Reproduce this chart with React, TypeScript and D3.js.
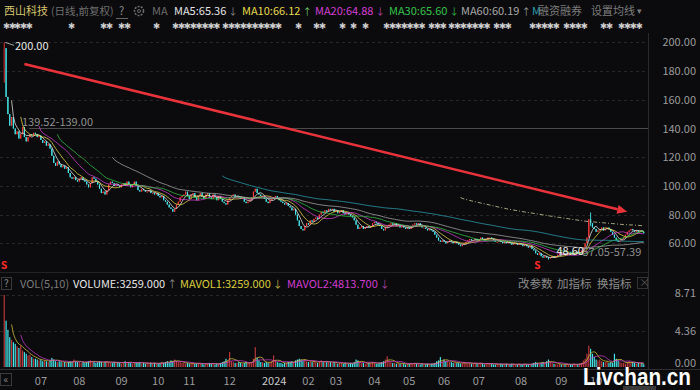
import React, { useEffect, useRef } from "react";
import * as d3 from "d3";

// month labels on the time axis, one per block of trading days below
const monthLabels = ["06", "07", "08", "09", "10", "11", "12", "2024", "02", "03", "04", "05", "06", "07", "08", "09", "10", "11"];

// daily closes, one array per month
const close2306 = [196, 162, 150, 142, 148, 140, 136, 138, 133, 136, 141, 134, 131, 134, 136, 135, 137];
const close2307 = [136, 134, 135, 132, 130, 131, 128, 129, 126, 121, 116, 114, 117, 115, 113, 114, 112, 113, 109, 106, 105];
const close2308 = [106, 104, 103, 105, 106, 104, 103, 101, 99, 102, 106, 105, 103, 101, 98, 95, 96, 94, 97, 101, 103, 102, 100];
const close2309 = [101, 100, 99, 101, 102, 100, 103, 101, 99, 101, 103, 100, 97, 96, 98, 97, 96, 96, 97, 95];
const close2310 = [95, 94, 95, 93, 92, 93, 90, 89, 87, 85, 84, 82, 84, 87, 89, 92, 93];
const close2311 = [94, 96, 93, 91, 94, 95, 92, 90, 93, 95, 93, 91, 94, 95, 92, 91, 94, 92, 90, 93, 91, 89];
const close2312 = [88, 87, 90, 92, 93, 94, 92, 93, 92, 91, 92, 89, 88, 89, 90, 92, 96, 98, 95, 94, 93];
const close2401 = [93, 91, 89, 88, 90, 91, 92, 93, 91, 90, 89, 88, 87, 88, 86, 85, 83, 84, 80, 76, 72, 70];
const close2402 = [69, 72, 74, 73, 76, 75, 77, 78, 77, 80, 82, 81, 83, 82, 84];
const close2403 = [83, 84, 82, 83, 81, 82, 83, 81, 80, 81, 80, 79, 78, 76, 73, 70, 71, 72, 70, 71, 72];
const close2404 = [71, 72, 74, 75, 74, 73, 72, 70, 69, 71, 72, 73, 74, 73, 74, 72, 73, 71, 72];
const close2405 = [71, 70, 71, 70, 72, 73, 74, 73, 74, 72, 71, 71, 70, 69, 70, 69, 68, 66, 64];
const close2406 = [62, 61, 62, 61, 60, 61, 62, 61, 60, 61, 60, 59, 58, 59, 60, 61, 62, 63, 62];
const close2407 = [62, 63, 62, 63, 64, 63, 62, 63, 64, 64, 63, 62, 61, 61, 62, 61, 60, 61, 60, 61, 60, 59, 60];
const close2408 = [60, 59, 60, 59, 58, 59, 58, 57, 58, 56, 55, 53, 52, 53, 51, 50, 51, 50, 49.5, 50, 51, 50];
const close2409 = [51, 52, 53, 52, 53, 52, 53, 54, 53, 52, 53, 54, 53, 54, 55, 57, 60, 64, 76.8];
const close2410 = [74, 71, 70, 68, 69, 70, 71, 69, 70, 71, 70, 68, 66, 64, 62, 61, 62, 63];
const close2411 = [64, 66, 68, 69, 70, 69, 68, 69, 68, 69, 68, 67];

// daily volume (万手), one array per month
const vol2306 = [8.71, 5.6, 4.5, 3.6, 3.3, 3.0, 2.8, 2.5, 2.3, 2.6, 2.0, 1.8, 1.6, 1.4, 1.5, 1.2, 1.0];
const vol2307 = [1.0, 0.9, 0.8, 0.9, 0.7, 0.8, 0.7, 0.6, 0.8, 1.1, 0.9, 0.7, 0.6, 0.7, 0.6, 0.5, 0.6, 0.5, 0.6, 0.7, 0.6];
const vol2308 = [0.9, 0.7, 0.6, 0.6, 0.5, 0.6, 0.5, 0.6, 0.7, 0.8, 0.7, 0.6, 0.5, 0.6, 0.7, 0.6, 0.5, 0.6, 0.7, 0.6, 0.5, 0.5, 0.6];
const vol2309 = [0.5, 0.6, 0.5, 0.4, 0.6, 0.7, 0.5, 0.6, 0.5, 0.4, 0.6, 0.5, 0.5, 0.6, 0.4, 0.5, 0.4, 0.5, 0.4, 0.5];
const vol2310 = [0.4, 0.5, 0.4, 0.4, 0.5, 0.6, 0.5, 0.6, 0.7, 0.6, 0.8, 0.7, 0.9, 0.7, 0.6, 0.6, 0.5];
const vol2311 = [0.5, 0.4, 0.5, 0.4, 0.4, 0.5, 0.4, 0.4, 0.5, 0.4, 0.4, 0.3, 0.4, 0.4, 0.5, 0.4, 0.4, 0.3, 0.4, 0.4, 0.5, 0.6];
const vol2312 = [0.7, 1.0, 0.8, 1.8, 0.7, 0.6, 0.5, 0.5, 0.6, 0.5, 0.4, 0.5, 0.6, 0.5, 0.5, 0.6, 1.0, 2.4, 1.1, 0.8, 0.6];
const vol2401 = [0.6, 0.5, 0.6, 0.5, 0.6, 0.7, 1.4, 0.8, 0.6, 0.5, 0.5, 0.4, 0.5, 0.5, 0.6, 0.6, 0.7, 0.6, 0.8, 0.9, 1.0, 0.9];
const vol2402 = [0.8, 0.9, 0.7, 0.6, 0.7, 0.6, 0.7, 0.6, 0.5, 0.7, 0.8, 0.6, 0.7, 0.6, 0.6];
const vol2403 = [0.6, 0.5, 0.6, 0.5, 0.4, 0.5, 0.5, 0.4, 0.5, 0.4, 0.4, 0.5, 0.4, 0.6, 0.9, 0.8, 0.6, 0.5, 0.5, 0.4, 0.5];
const vol2404 = [0.5, 0.5, 0.6, 0.5, 0.4, 0.4, 0.5, 0.6, 0.7, 0.9, 1.3, 0.8, 0.6, 0.5, 0.5, 0.4, 0.5, 0.4, 0.4];
const vol2405 = [0.4, 0.3, 0.4, 0.4, 0.5, 0.4, 0.5, 0.4, 0.4, 0.3, 0.4, 0.3, 0.3, 0.4, 0.3, 0.4, 0.4, 0.5, 0.7];
const vol2406 = [0.8, 1.2, 0.7, 0.9, 0.7, 0.8, 0.6, 0.6, 0.5, 0.6, 0.5, 0.5, 0.4, 0.5, 0.6, 0.5, 0.4, 0.5, 0.4];
const vol2407 = [0.4, 0.5, 0.4, 0.4, 0.5, 0.4, 0.3, 0.4, 0.5, 0.4, 0.4, 0.3, 0.3, 0.4, 0.3, 0.4, 0.3, 0.3, 0.4, 0.3, 0.3, 0.4, 0.3];
const vol2408 = [0.3, 0.3, 0.4, 0.3, 0.3, 0.4, 0.3, 0.3, 0.3, 0.4, 0.5, 0.6, 0.5, 0.4, 0.5, 0.6, 0.5, 0.7, 0.9, 0.6, 0.5, 0.4];
const vol2409 = [0.4, 0.3, 0.4, 0.3, 0.3, 0.3, 0.4, 0.3, 0.3, 0.3, 0.4, 0.3, 0.3, 0.4, 0.5, 0.8, 1.0, 1.6, 2.6];
const vol2410 = [2.2, 1.6, 1.2, 0.9, 0.8, 0.9, 0.7, 0.6, 0.6, 0.7, 0.5, 0.6, 0.5, 1.6, 1.0, 0.8, 0.6, 0.5];
const vol2411 = [0.5, 0.4, 0.6, 0.7, 0.5, 0.6, 0.5, 0.4, 0.5, 0.4, 0.5, 0.33];

const firstOpen = 181;
// days whose range reaches past the body
const wicks = [
  { day: 0, high: 200, low: 172 },
  { day: 297, high: 50.5, low: 48.6 },
  { day: 320, high: 81.5, low: 72 },
];

const priceTicks = [200, 180, 160, 140, 120, 100, 80, 60];
const volTicks = [8.71, 4.36, 0];
const maPeriods = [5, 10, 20, 30, 60, 120, 250];
const maLegend = ["MA5:65.36", "MA10:66.12", "MA20:64.88", "MA30:65.60", "MA60:60.19"];
const volLegend = ["VOLUME:3259.000", "MAVOL1:3259.000", "MAVOL2:4813.700"];
const gap = { from: 7, top: 139.52, bottom: 139.0 };
const gap2 = { top: 57.05, bottom: 57.39 };
const highMark = { day: 0, value: 200 };
const lowMark = { day: 297, value: 48.6 };
const signalDays = [0, 291];
const trendArrow = { from: [11, 185], to: [340, 82] };

const FONT = '"Noto Sans CJK SC", "Noto Sans", sans-serif';
const BG = "#0b0b0d";
const UP = "#f23a3a";
const DOWN = "#45e3e6";
const maColors = ["#e4e4e4", "#e6d84a", "#d23fd2", "#35c24a", "#a8a8a8", "#2d9fb0", "#d9d6a6"];

const ChartKline = () => {
  const ref = useRef(null);

  useEffect(() => {
    document.body.style.margin = "0";
    document.body.style.background = BG;

    const closes = [close2306, close2307, close2308, close2309, close2310, close2311, close2312, close2401, close2402, close2403, close2404, close2405, close2406, close2407, close2408, close2409, close2410, close2411];
    const vols = [vol2306, vol2307, vol2308, vol2309, vol2310, vol2311, vol2312, vol2401, vol2402, vol2403, vol2404, vol2405, vol2406, vol2407, vol2408, vol2409, vol2410, vol2411];
    const close = closes.flat();
    const volume = vols.flat();
    const n = close.length;

    const days = close.map((c, i) => {
      const o = i === 0 ? firstOpen : close[i - 1];
      const w = wicks.find((d) => d.day === i);
      return {
        i,
        o,
        c,
        h: Math.max(o, c, w ? w.high : -Infinity),
        l: Math.min(o, c, w ? w.low : Infinity),
        v: volume[i],
        up: c >= o,
      };
    });

    const W = 700;
    const H = 390;
    const plotR = 648;

    const x = d3.scaleBand().domain(d3.range(n)).range([3, 645]).padding(0.35);
    const cx = (i) => x(i) + x.bandwidth() / 2;
    const y = d3.scaleLinear().domain([60, 200]).range([243.3, 42.4]);
    const vy = d3.scaleLinear().domain([0, 8.71]).range([367, 295]);

    const root = d3.select(ref.current);
    root.selectAll("*").remove();
    const svg = root
      .append("svg")
      .attr("width", W)
      .attr("height", H)
      .style("display", "block")
      .attr("font-family", FONT);

    svg.append("rect").attr("width", W).attr("height", H).attr("fill", BG);

    // grid
    svg
      .append("g")
      .selectAll("line")
      .data(priceTicks.filter((t) => t !== 140))
      .join("line")
      .attr("x1", 0)
      .attr("x2", plotR)
      .attr("y1", (d) => Math.round(y(d)) + 0.5)
      .attr("y2", (d) => Math.round(y(d)) + 0.5)
      .attr("stroke", "#262626")
      .attr("stroke-dasharray", "3,3");
    svg
      .append("g")
      .selectAll("line")
      .data(volTicks.filter((t) => t > 0))
      .join("line")
      .attr("x1", 0)
      .attr("x2", plotR)
      .attr("y1", (d) => Math.round(vy(d)) + 0.5)
      .attr("y2", (d) => Math.round(vy(d)) + 0.5)
      .attr("stroke", "#262626")
      .attr("stroke-dasharray", "3,3");

    // frame
    svg.append("line").attr("x1", plotR + 0.5).attr("x2", plotR + 0.5).attr("y1", 33).attr("y2", 370).attr("stroke", "#2a2a2a");
    svg.append("line").attr("x1", 0).attr("x2", plotR).attr("y1", 272.5).attr("y2", 272.5).attr("stroke", "#222");
    svg.append("line").attr("x1", 0).attr("x2", W).attr("y1", 369.5).attr("y2", 369.5).attr("stroke", "#2e2e2e");

    // gap line
    const gy = Math.round(y((gap.top + gap.bottom) / 2)) - 1.5;
    svg.append("line").attr("x1", cx(gap.from) + 12).attr("x2", plotR).attr("y1", gy).attr("y2", gy).attr("stroke", "#4a4a4a");

    // candles
    const cg = svg.append("g");
    cg.selectAll("line")
      .data(days)
      .join("line")
      .attr("x1", (d) => cx(d.i))
      .attr("x2", (d) => cx(d.i))
      .attr("y1", (d) => y(d.h))
      .attr("y2", (d) => y(d.l))
      .attr("stroke", (d) => (d.up ? UP : DOWN))
      .attr("stroke-width", 0.9);
    cg.selectAll("rect")
      .data(days)
      .join("rect")
      .attr("x", (d) => x(d.i))
      .attr("width", x.bandwidth())
      .attr("y", (d) => y(Math.max(d.o, d.c)))
      .attr("height", (d) => Math.max(1, Math.abs(y(d.o) - y(d.c))))
      .attr("fill", (d) => (d.i === 0 ? "#8a1c22" : d.up ? UP : DOWN));

    // moving averages
    const movingAvg = (vals, p) => vals.map((_, i) => (i < p - 1 ? null : d3.mean(vals.slice(i - p + 1, i + 1))));
    const maLine = (scale) =>
      d3
        .line()
        .defined((v) => v != null)
        .x((_, i) => cx(i))
        .y((v) => scale(v));
    maPeriods.forEach((p, k) => {
      svg
        .append("path")
        .attr("d", maLine(y)(movingAvg(close, p)))
        .attr("fill", "none")
        .attr("stroke", maColors[k])
        .attr("stroke-width", 0.9)
        .attr("stroke-opacity", 0.85)
        .attr("stroke-dasharray", p === 250 ? "4,2,1,2" : null);
    });

    // trend arrow
    const [ax0, ay0] = [cx(trendArrow.from[0]), y(trendArrow.from[1])];
    const [ax1, ay1] = [cx(trendArrow.to[0]), y(trendArrow.to[1])];
    const ang = Math.atan2(ay1 - ay0, ax1 - ax0);
    const headL = 10;
    const bx = ax1 - headL * Math.cos(ang);
    const by = ay1 - headL * Math.sin(ang);
    svg.append("line").attr("x1", ax0).attr("y1", ay0).attr("x2", bx).attr("y2", by).attr("stroke", "#e8333b").attr("stroke-width", 2.6);
    svg
      .append("path")
      .attr(
        "d",
        `M${ax1},${ay1}L${bx + 4.5 * Math.sin(ang)},${by - 4.5 * Math.cos(ang)}L${bx - 4.5 * Math.sin(ang)},${by + 4.5 * Math.cos(ang)}Z`
      )
      .attr("fill", "#e8333b");

    // price annotations
    svg.append("line").attr("x1", cx(highMark.day) + 1).attr("y1", y(highMark.value)).attr("x2", 14).attr("y2", y(highMark.value) + 3).attr("stroke", "#cfcfcf").attr("stroke-width", 0.8);
    svg.append("text").attr("x", 15).attr("y", y(highMark.value) + 8).attr("font-size", 11).attr("fill", "#e6e6e6").text(highMark.value.toFixed(2));
    svg.append("text").attr("x", 22).attr("y", gy - 3).attr("font-size", 11).attr("fill", "#8e8e8e").text(`${gap.top.toFixed(2)}-${gap.bottom.toFixed(2)}`);
    svg.append("text").attr("x", cx(lowMark.day) + 34).attr("y", 256).attr("font-size", 11).attr("fill", "#8e8e8e").text(`${gap2.top.toFixed(2)}-${gap2.bottom.toFixed(2)}`);
    svg.append("text").attr("x", cx(lowMark.day) + 8).attr("y", 255).attr("font-size", 11).attr("fill", "#f0f0f0").text(lowMark.value.toFixed(2));
    svg
      .append("g")
      .selectAll("text")
      .data(signalDays)
      .join("text")
      .attr("x", (d) => cx(d))
      .attr("y", 269)
      .attr("text-anchor", "middle")
      .attr("font-size", 10)
      .attr("font-weight", "bold")
      .attr("fill", "#ff2b2b")
      .text("S");

    // right axis
    svg
      .append("g")
      .selectAll("text")
      .data(priceTicks)
      .join("text")
      .attr("x", 696)
      .attr("y", (d) => y(d) + 4)
      .attr("text-anchor", "end")
      .attr("font-size", 11)
      .attr("fill", "#9a9a9a")
      .text((d) => d.toFixed(2));
    svg
      .append("g")
      .selectAll("text")
      .data(volTicks)
      .join("text")
      .attr("x", 696)
      .attr("y", (d) => vy(d) + (d === 0 ? 0 : d > 8 ? 2 : 4))
      .attr("text-anchor", "end")
      .attr("font-size", 11)
      .attr("fill", "#9a9a9a")
      .text((d) => d.toFixed(2));

    // volume bars
    svg
      .append("g")
      .selectAll("rect")
      .data(days)
      .join("rect")
      .attr("x", (d) => x(d.i))
      .attr("width", x.bandwidth())
      .attr("y", (d) => vy(d.v))
      .attr("height", (d) => vy(0) - vy(d.v))
      .attr("fill", (d) => (d.up ? "#b8383c" : DOWN));
    [5, 10].forEach((p, k) => {
      svg
        .append("path")
        .attr("d", maLine(vy)(movingAvg(volume, p)))
        .attr("fill", "none")
        .attr("stroke", k === 0 ? "#d8cc3c" : "#d03ccf")
        .attr("stroke-width", 0.9)
        .attr("stroke-opacity", 0.8);
    });

    // month axis (the last month sits under the watermark)
    const starts = d3.cumsum([0, ...closes.map((m) => m.length)]);
    svg
      .append("g")
      .selectAll("text")
      .data(monthLabels.slice(1, -1))
      .join("text")
      .attr("x", (_, k) => x(starts[k + 1]))
      .attr("y", 385)
      .attr("font-size", 11)
      .attr("fill", (d) => (d === "2024" ? "#c8c8c8" : "#9a9a9a"))
      .text((d) => d);
    svg.append("rect").attr("x", 0.5).attr("y", 373.5).attr("width", 11).attr("height", 12).attr("fill", "none").attr("stroke", "#3a3a3a");
    svg.append("text").attr("x", 6).attr("y", 383).attr("text-anchor", "middle").attr("font-size", 10).attr("fill", "#888").text("«");
    svg.append("rect").attr("x", 623).attr("y", 386).attr("width", 33).attr("height", 4).attr("fill", "#3a3a3a");

    // header row 1
    const head = svg.append("g").attr("font-size", 11);
    const put = (g, tx, ty, t, color, size) =>
      g.append("text").attr("x", tx).attr("y", ty).attr("fill", color).attr("font-size", size || null).text(t);
    put(head, 4, 15, "西山科技", "#d5c46c", 11);
    put(head, 51, 15, "(日线,前复权)", "#6f6f6f", 10.5);
    put(head, 119, 15, "?", "#8a8a8a");
    head.append("line").attr("x1", 116).attr("x2", 128).attr("y1", 18.5).attr("y2", 18.5).attr("stroke", "#666");
    head.append("circle").attr("cx", 139).attr("cy", 11).attr("r", 4.5).attr("fill", "none").attr("stroke", "#6a6a6a").attr("stroke-width", 1.6).attr("stroke-dasharray", "2,1.2");
    head.append("circle").attr("cx", 139).attr("cy", 11).attr("r", 1.5).attr("fill", "none").attr("stroke", "#6a6a6a");
    put(head, 152, 15, "MA", "#6a6a6a");
    const maX = [174, 242, 315, 389, 461];
    const maArrows = [["↓", "#8a8a8a"], ["↑", "#6cc86c"], ["↓", "#b040b0"], ["↓", "#35b24a"], ["↑", "#9a9a9a"]];
    maLegend.forEach((t, k) => {
      const el = put(head, maX[k], 15, t, maColors[k]);
      const wdt = el.node().getComputedTextLength();
      put(head, maX[k] + wdt + 2, 15, maArrows[k][0], maArrows[k][1], 9.5);
    });
    put(head, 532, 15, "M", maColors[5]);
    put(head, 538, 15, "融资融券", "#7c7c7c");
    put(head, 591, 15, "设置均线", "#7c7c7c");
    put(head, 637, 14, "▾", "#7c7c7c", 9);

    // header row 2, masked notices
    const masked = [[3, 2], [14, 3], [68, 1], [100, 2], [118, 2], [153, 1], [172, 8], [222, 10], [295, 1], [313, 2], [339, 1], [350, 1], [362, 1], [383, 7], [428, 3], [448, 7], [493, 3], [529, 1], [535, 4], [563, 4], [600, 2], [618, 4]];
    const mg = svg.append("g").attr("font-family", "DejaVu Sans").attr("font-size", 8.5).attr("fill", "#cfcfcf");
    masked.forEach(([sx, cnt]) => {
      d3.range(cnt).forEach((k) => mg.append("text").attr("x", sx + k * 5.9).attr("y", 29).text("✱"));
    });

    // volume header
    const vh = svg.append("g").attr("font-size", 11);
    vh.append("rect").attr("x", 1.5).attr("y", 277.5).attr("width", 10).attr("height", 12).attr("fill", "none").attr("stroke", "#3a3a3a");
    put(vh, 4, 287, "?", "#8a8a8a", 10);
    put(vh, 20, 288, "VOL(5,10)", "#7a7a7a");
    const vX = [73, 180, 287];
    const vColors = ["#e4e4e4", "#d8cc3c", "#d03ccf"];
    const vArrows = [["↑", "#8a8a8a"], ["↓", "#b8a83c"], ["↓", "#a040a0"]];
    volLegend.forEach((t, k) => {
      const el = put(vh, vX[k], 288, t, vColors[k]);
      const wdt = el.node().getComputedTextLength();
      put(vh, vX[k] + wdt + 2, 288, vArrows[k][0], vArrows[k][1], 10);
    });
    put(vh, 518, 288, "改参数", "#8a8a8a", 11.5);
    put(vh, 557, 288, "加指标", "#8a8a8a", 11.5);
    put(vh, 597, 288, "换指标", "#8a8a8a", 11.5);
    vh.append("rect").attr("x", 637.5).attr("y", 277.5).attr("width", 10).attr("height", 11).attr("fill", "none").attr("stroke", "#333");
    put(vh, 639, 287, "×", "#555", 11);

    // watermark
    svg
      .append("text")
      .attr("x", 583)
      .attr("y", 385)
      .attr("font-family", '"Liberation Sans", Arial, sans-serif')
      .attr("font-weight", "bold")
      .attr("font-size", 23)
      .attr("textLength", 108)
      .attr("lengthAdjust", "spacingAndGlyphs")
      .attr("fill", "#ffffff")
      .text("Livchan.cn");
  }, []);

  return <div ref={ref}></div>;
};

export default function App() {
  return <ChartKline />;
}
